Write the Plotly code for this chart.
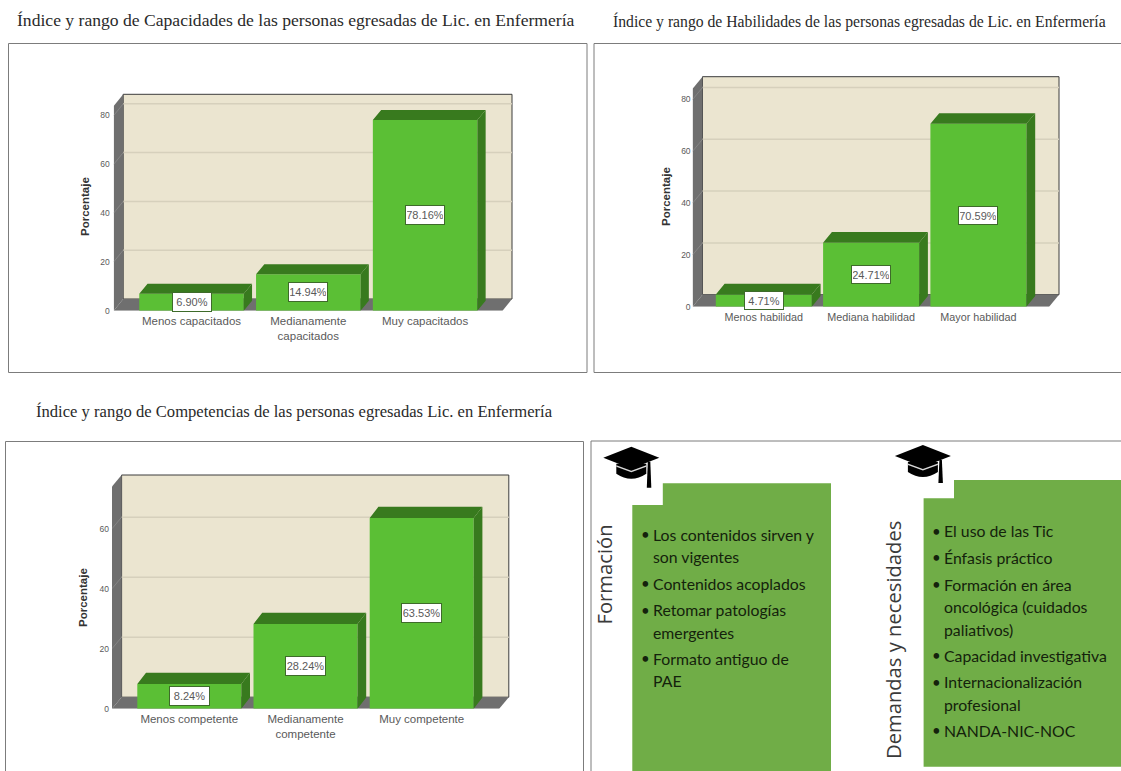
import plotly.graph_objects as go

PAGE_W, PAGE_H = 1121, 771

# ---- chart data ----
cap_title = "Índice y rango de Capacidades de las personas egresadas de Lic. en Enfermería"
cap_categories = ["Menos capacitados", "Medianamente<br>capacitados", "Muy capacitados"]
cap_values = [6.90, 14.94, 78.16]
cap_ticks = [0, 20, 40, 60, 80]

hab_title = "Índice y rango de Habilidades de las personas egresadas de Lic. en Enfermería"
hab_categories = ["Menos habilidad", "Mediana habilidad", "Mayor habilidad"]
hab_values = [4.71, 24.71, 70.59]
hab_ticks = [0, 20, 40, 60, 80]

com_title = "Índice y rango de Competencias de las personas egresadas Lic. en Enfermería"
com_categories = ["Menos competente", "Medianamente<br>competente", "Muy competente"]
com_values = [8.24, 28.24, 63.53]
com_ticks = [0, 20, 40, 60]

y_axis_label = "Porcentaje"

formacion_heading = "Formación"
formacion_lines = [
    ("•", "Los contenidos sirven y"),
    ("", "son vigentes"),
    ("•", "Contenidos acoplados"),
    ("•", "Retomar patologías"),
    ("", "emergentes"),
    ("•", "Formato antiguo de"),
    ("", "PAE"),
]
demandas_heading = "Demandas y necesidades"
demandas_lines = [
    ("•", "El uso de las Tic"),
    ("•", "Énfasis práctico"),
    ("•", "Formación en área"),
    ("", "oncológica (cuidados"),
    ("", "paliativos)"),
    ("•", "Capacidad investigativa"),
    ("•", "Internacionalización"),
    ("", "profesional"),
    ("•", "NANDA-NIC-NOC"),
]

# ---- colours ----
BAR_FRONT = "#5BBF35"
BAR_SHADE = "#387A1E"
WALL_BACK = "#EBE5D0"
WALL_SIDE = "#6F6F6F"
GRID = "#D6D0BC"
FRAME = "#7C7C7C"
BOX_GREEN = "#70AD47"
TEXT_GREY = "#5A5A5A"

EDGE_PAD = 2  # room beyond the box so its outline is not clipped


def px(x):
    return x / PAGE_W


def py(y):
    return 1 - y / PAGE_H


fig = go.Figure()
shapes = []
annotations = []


def panel(suffix, categories, values, ticks, g):
    """One pseudo-3D bar chart; g holds the panel's pixel geometry."""
    axis_x = "x" + suffix
    axis_y = "y" + suffix
    unit_x = g["step"]
    unit_y = g["ppu"]
    # data-space scale of the panel: categories 0,1,2 and percentages
    x_lo = (g["front_left"] - g["first_center"]) / unit_x
    x_hi = (g["back_right"] - g["first_center"]) / unit_x
    y_hi = (g["base"] - g["wall_top"]) / unit_y
    wall_dx = g["wall_dx"] / unit_x
    wall_dy = g["wall_dy"] / unit_y
    bar_dx = g["bar_dx"] / unit_x
    bar_dy = g["bar_dy"] / unit_y
    half = g["bar_w"] / unit_x / 2
    positions = list(range(len(values)))

    layout_x = dict(
        domain=[px(g["front_left"]), px(g["back_right"] + EDGE_PAD)],
        range=[x_lo, x_hi + EDGE_PAD / unit_x],
        tickmode="array",
        tickvals=positions,
        ticktext=categories,
        ticklen=0,
        ticklabelstandoff=g["cat_gap"],
        showgrid=False,
        zeroline=False,
        showline=False,
        tickfont=dict(family="Liberation Sans", size=g["cat_size"], color=TEXT_GREY),
        anchor=axis_y,
    )
    layout_y = dict(
        domain=[py(g["base"]), py(g["wall_top"] - EDGE_PAD)],
        range=[0, y_hi + EDGE_PAD / unit_y],
        tickmode="array",
        tickvals=ticks,
        ticklen=0,
        ticklabelstandoff=g["tick_gap"],
        showgrid=False,
        zeroline=False,
        showline=False,
        tickfont=dict(family="Liberation Sans", size=8.5, color=TEXT_GREY),
        anchor=axis_x,
    )
    name = suffix if suffix else ""
    fig.layout["xaxis" + name] = layout_x
    fig.layout["yaxis" + name] = layout_y

    def poly(points, fill, line=None, width=0):
        d = "M " + " L ".join(f"{a} {b}" for a, b in points) + " Z"
        shapes.append(dict(type="path", path=d, xref=axis_x, yref=axis_y,
                           fillcolor=fill, line=dict(color=line or fill, width=width),
                           layer="below"))

    back_left = x_lo + wall_dx
    front_right = x_hi - wall_dx
    # back wall, left wall and floor of the box
    poly([(back_left, wall_dy), (x_hi, wall_dy), (x_hi, y_hi), (back_left, y_hi)],
         WALL_BACK, "#3C3C3C", 1)
    poly([(x_lo, 0), (back_left, wall_dy), (back_left, y_hi), (x_lo, y_hi - wall_dy)], WALL_SIDE)
    poly([(x_lo, 0), (front_right, 0), (x_hi, wall_dy), (back_left, wall_dy)], WALL_SIDE)

    # gridlines run along the back wall and step down the left wall
    for t in ticks[1:]:
        if t + wall_dy < y_hi:
            shapes.append(dict(type="line", xref=axis_x, yref=axis_y, layer="below",
                               x0=back_left, x1=x_hi, y0=t + wall_dy, y1=t + wall_dy,
                               line=dict(color=GRID, width=1.5)))
            shapes.append(dict(type="line", xref=axis_x, yref=axis_y, layer="below",
                               x0=x_lo, x1=back_left, y0=t, y1=t + wall_dy,
                               line=dict(color="#858585", width=1)))

    # front faces of the bars
    fig.add_trace(go.Bar(
        x=positions, y=values, width=[2 * half] * len(values),
        marker=dict(color=BAR_FRONT, line=dict(width=0)),
        xaxis=axis_x, yaxis=axis_y, showlegend=False, hoverinfo="skip",
    ))

    # top and side faces follow each bar's value
    tops_x, tops_y, sides_x, sides_y = [], [], [], []
    for p, v in zip(positions, values):
        tops_x += [p - half, p + half, p + half + bar_dx, p - half + bar_dx, p - half, None]
        tops_y += [v, v, v + bar_dy, v + bar_dy, v, None]
        sides_x += [p + half, p + half + bar_dx, p + half + bar_dx, p + half, p + half, None]
        sides_y += [0, bar_dy, v + bar_dy, v, 0, None]
    for xs, ys in ((sides_x, sides_y), (tops_x, tops_y)):
        fig.add_trace(go.Scatter(
            x=xs, y=ys, mode="lines", fill="toself", fillcolor=BAR_SHADE,
            line=dict(width=0, color=BAR_SHADE),
            xaxis=axis_x, yaxis=axis_y, showlegend=False, hoverinfo="skip",
        ))

    # value labels at the middle of each front face
    for p, v in zip(positions, values):
        annotations.append(dict(
            x=p, y=v / 2, xref=axis_x, yref=axis_y, showarrow=False,
            text=f"{v:.2f}%",
            font=dict(family="Liberation Sans", size=g["val_size"], color=TEXT_GREY),
            bgcolor="white", bordercolor="#3E6B2A", borderwidth=1, borderpad=1,
            width=g["val_w"], height=g["val_h"],
        ))

    annotations.append(dict(
        x=px(g["label_x"]), y=py(g["label_y"]), xref="paper", yref="paper",
        xanchor="center", yanchor="middle",
        text=y_axis_label, textangle=-90, showarrow=False,
        font=dict(family="Liberation Sans", size=11.5, color="#333333", weight="bold"),
    ))


panel("", cap_categories, cap_values, cap_ticks, dict(
    front_left=113.7, back_right=512, base=310.7, wall_top=94.3, ppu=2.44,
    first_center=191.5, step=116.8, bar_w=104.5, wall_dx=9.5, wall_dy=11.7,
    bar_dx=8.3, bar_dy=10, cat_size=11.5, cat_gap=2, tick_gap=3, val_size=11, val_w=36, val_h=16,
    label_x=85, label_y=207))
panel("2", hab_categories, hab_values, hab_ticks, dict(
    front_left=692.6, back_right=1059, base=306.7, wall_top=76.7, ppu=2.59,
    first_center=763.8, step=107.3, bar_w=96, wall_dx=9.9, wall_dy=12,
    bar_dx=8.8, bar_dy=10.7, cat_size=10.8, cat_gap=2, tick_gap=1, val_size=11, val_w=36, val_h=15,
    label_x=666, label_y=197))
panel("3", com_categories, com_values, com_ticks, dict(
    front_left=112, back_right=508.8, base=708.7, wall_top=475, ppu=3.0,
    first_center=189.3, step=116.2, bar_w=104, wall_dx=9.6, wall_dy=11.5,
    bar_dx=8.7, bar_dy=11.3, cat_size=11.5, cat_gap=2, tick_gap=2, val_size=11, val_w=37, val_h=16,
    label_x=83, label_y=598))


def page_rect(x0, y0, x1, y1, **kw):
    shapes.append(dict(type="rect", xref="paper", yref="paper",
                       x0=px(x0), x1=px(x1), y0=py(y0), y1=py(y1), layer="below", **kw))


def page_path(cmds, fill):
    parts = []
    for c in cmds:
        if isinstance(c, str):
            parts.append(c)
        else:
            parts.append(f"{px(c[0]):.5f} {py(c[1]):.5f}")
    shapes.append(dict(type="path", xref="paper", yref="paper", path=" ".join(parts),
                       fillcolor=fill, line=dict(width=0), layer="above"))


# panel frames
frame_line = dict(line=dict(color=FRAME, width=1), fillcolor="rgba(0,0,0,0)")
page_rect(8.5, 43.5, 587, 372.5, **frame_line)
page_rect(594, 43.5, 1125, 372.5, **frame_line)
page_rect(5.5, 441.5, 583.5, 780, **frame_line)
page_rect(591, 441, 1125, 780, **frame_line)


def notched_box(left, notch_x, right, top, notch_y, bottom):
    page_path(["M", (notch_x, top), "L", (right, top), "L", (right, bottom), "L", (left, bottom),
               "L", (left, notch_y), "L", (notch_x, notch_y), "Z"], BOX_GREEN)


notched_box(632.3, 662.8, 831, 483.3, 505, 771)
notched_box(923.6, 954, 1121, 480, 498.3, 766.7)


def graduation_cap(cx, cy, tassel_bottom):
    # mortarboard, cup underneath and hanging tassel
    page_path(["M", (cx - 15, cy + 6), "L", (cx - 15, cy + 16), "Q", (cx, cy + 26), (cx + 15, cy + 16),
               "L", (cx + 15, cy + 6), "Z"], "#000000")
    page_path(["M", (cx, cy - 11), "L", (cx + 28, cy), "L", (cx, cy + 11), "L", (cx - 28, cy), "Z"],
              "#000000")
    page_path(["M", (cx - 15, cy + 7.5), "L", (cx, cy + 13), "L", (cx + 15, cy + 7.5),
               "L", (cx + 15, cy + 9), "L", (cx, cy + 14.5), "L", (cx - 15, cy + 9), "Z"], "#D8D8D8")
    page_path(["M", (cx + 16.5, cy + 4), "L", (cx + 19, cy + 4), "L", (cx + 20, tassel_bottom),
               "L", (cx + 15.5, tassel_bottom), "Z"], "#000000")


graduation_cap(631.3, 457.7, 487.7)
graduation_cap(922.9, 456, 483)


def page_text(x, y, text, size, family, color="#222222", anchor="left", angle=0, **font_extra):
    annotations.append(dict(
        x=px(x), y=py(y), xref="paper", yref="paper", text=text, showarrow=False,
        xanchor=anchor, yanchor="middle", textangle=angle,
        font=dict(family=family, size=size, color=color, **font_extra),
    ))


page_text(15, 19.5, cap_title, 17.6, "Liberation Serif", "#2A2A2A")
page_text(610.5, 21.5, hab_title, 15.7, "Liberation Serif", "#2A2A2A")
page_text(34, 411.5, com_title, 16.6, "Liberation Serif", "#2A2A2A")

page_text(603, 574.5, formacion_heading, 20.2, "Open Sans", "#3A3A3A", anchor="center", angle=-90)
page_text(893, 640, demandas_heading, 20.2, "Open Sans", "#3A3A3A", anchor="center", angle=-90)


def bullet_block(lines, rows, text_x, bullet_x):
    for (mark, line), row_y in zip(lines, rows):
        if mark:
            page_text(bullet_x, row_y, mark, 15, "Lato", "#14220C", anchor="center")
        page_text(text_x, row_y, line, 15.8, "Lato", "#14220C")


bullet_block(formacion_lines, [534, 556.7, 583, 609.7, 632.3, 658, 680.7], 650.5, 645)
bullet_block(demandas_lines, [530.7, 557.3, 584, 606.7, 629.7, 655, 681.7, 704, 730], 941.5, 936)

fig.update_layout(
    width=PAGE_W, height=PAGE_H,
    margin=dict(l=0, r=0, t=0, b=0, autoexpand=False),
    paper_bgcolor="white", plot_bgcolor="rgba(0,0,0,0)",
    showlegend=False, shapes=shapes, annotations=annotations,
)
fig.write_html("out.html", config=dict(displayModeBar=False))
